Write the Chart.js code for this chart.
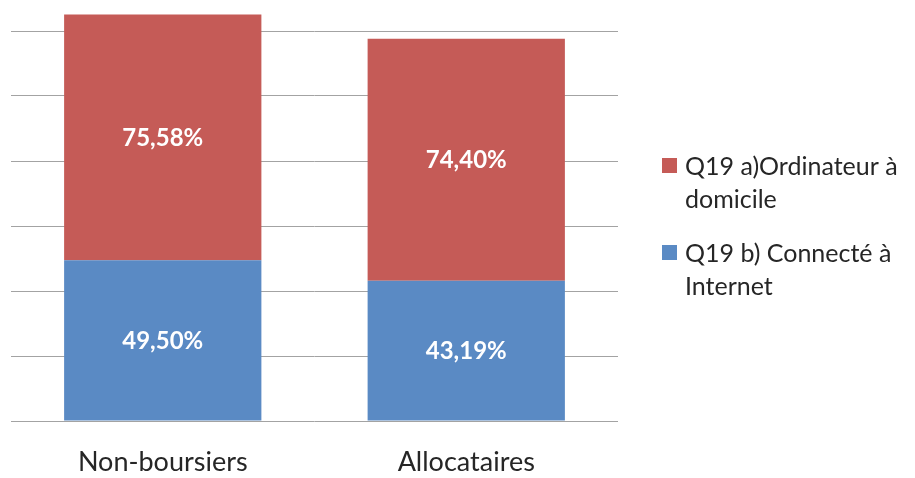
<!DOCTYPE html>
<html>
<head>
<meta charset="utf-8">
<title>Q19 – Ordinateur et Internet</title>
<script src="https://cdn.jsdelivr.net/npm/chart.js@4.4.1/dist/chart.umd.min.js"></script>
<style>
  html, body { margin: 0; padding: 0; background: #ffffff; }
  #wrap { width: 915px; height: 478px; position: relative; }
</style>
</head>
<body>
<div id="wrap"><canvas id="chart" width="915" height="478"></canvas></div>
<script>
// Categories and series (percentages)
const categories = ['Non-boursiers', 'Allocataires'];
const connecteInternet = [49.50, 43.19];      // Q19 b)
const ordinateurDomicile = [75.58, 74.40];    // Q19 a)
const seriesNames = ['Q19 b) Connecté à Internet', 'Q19 a)Ordinateur à domicile'];
const yTicks = [0, 20, 40, 60, 80, 100, 120];

const BLUE = '#5A8AC4';
const RED = '#C55B57';
const FONT = 'Lato, "Open Sans", sans-serif';

function fmtPct(v) {
  return v.toFixed(2).replace('.', ',') + '%';
}

// White value labels centred in each stacked segment
const valueLabels = {
  id: 'valueLabels',
  afterDatasetsDraw(chart) {
    const ctx = chart.ctx;
    ctx.save();
    ctx.fillStyle = '#ffffff';
    ctx.font = 'bold 24px ' + FONT;
    ctx.textAlign = 'center';
    ctx.textBaseline = 'middle';
    chart.data.datasets.forEach((ds, di) => {
      const meta = chart.getDatasetMeta(di);
      meta.data.forEach((el, i) => {
        const p = el.getProps(['x', 'y', 'base'], true);
        ctx.fillText(fmtPct(ds.data[i]), p.x, (p.y + p.base) / 2 + 1);
      });
    });
    ctx.restore();
  }
};

// Legend on the right, top series first, long names wrapped
const sideLegend = {
  id: 'sideLegend',
  afterDraw(chart) {
    const ctx = chart.ctx;
    const boxX = 662, textX = 685, maxW = 232;
    const lineH = 33, itemGap = 21;
    let baseline = 175;
    ctx.save();
    ctx.font = '25px ' + FONT;
    ctx.textAlign = 'left';
    ctx.textBaseline = 'alphabetic';
    const items = chart.data.datasets.slice().reverse();
    items.forEach(ds => {
      // wrap label words into lines
      const words = ds.label.split(' ');
      const lines = [];
      let cur = '';
      words.forEach(w => {
        const test = cur ? cur + ' ' + w : w;
        if (ctx.measureText(test).width > maxW && cur) {
          lines.push(cur);
          cur = w;
        } else {
          cur = test;
        }
      });
      if (cur) lines.push(cur);
      ctx.fillStyle = ds.backgroundColor;
      ctx.fillRect(boxX, baseline - 17, 15, 15);
      ctx.fillStyle = '#262626';
      lines.forEach((ln, k) => ctx.fillText(ln, textX, baseline + k * lineH));
      baseline += lines.length * lineH + itemGap;
    });
    ctx.restore();
  }
};

new Chart(document.getElementById('chart'), {
  type: 'bar',
  data: {
    labels: categories,
    datasets: [
      {
        label: seriesNames[0],
        data: connecteInternet,
        backgroundColor: BLUE,
        clip: false
      },
      {
        label: seriesNames[1],
        data: ordinateurDomicile,
        backgroundColor: RED,
        clip: false
      }
    ]
  },
  options: {
    responsive: false,
    animation: false,
    events: [],
    layout: { padding: { left: 11, right: 297, top: 31, bottom: 0 } },
    datasets: {
      bar: { barPercentage: 0.65, categoryPercentage: 1.0 }
    },
    plugins: {
      legend: { display: false },
      tooltip: { enabled: false },
      title: { display: false }
    },
    scales: {
      x: {
        stacked: true,
        grid: { display: false, drawTicks: false },
        border: { display: false },
        ticks: {
          color: '#262626',
          font: { family: FONT, size: 27 },
          padding: 25,
          maxRotation: 0
        },
        afterFit(scale) { scale.height = 57; }
      },
      y: {
        stacked: true,
        min: yTicks[0],
        max: yTicks[yTicks.length - 1],
        afterBuildTicks(scale) { scale.ticks = yTicks.map(v => ({ value: v })); },
        ticks: { display: false },
        grid: { color: '#a3a3a3', lineWidth: 1, drawTicks: false },
        border: { display: false },
        afterFit(scale) { scale.width = 0; }
      }
    }
  },
  plugins: [valueLabels, sideLegend]
});
</script>
</body>
</html>
